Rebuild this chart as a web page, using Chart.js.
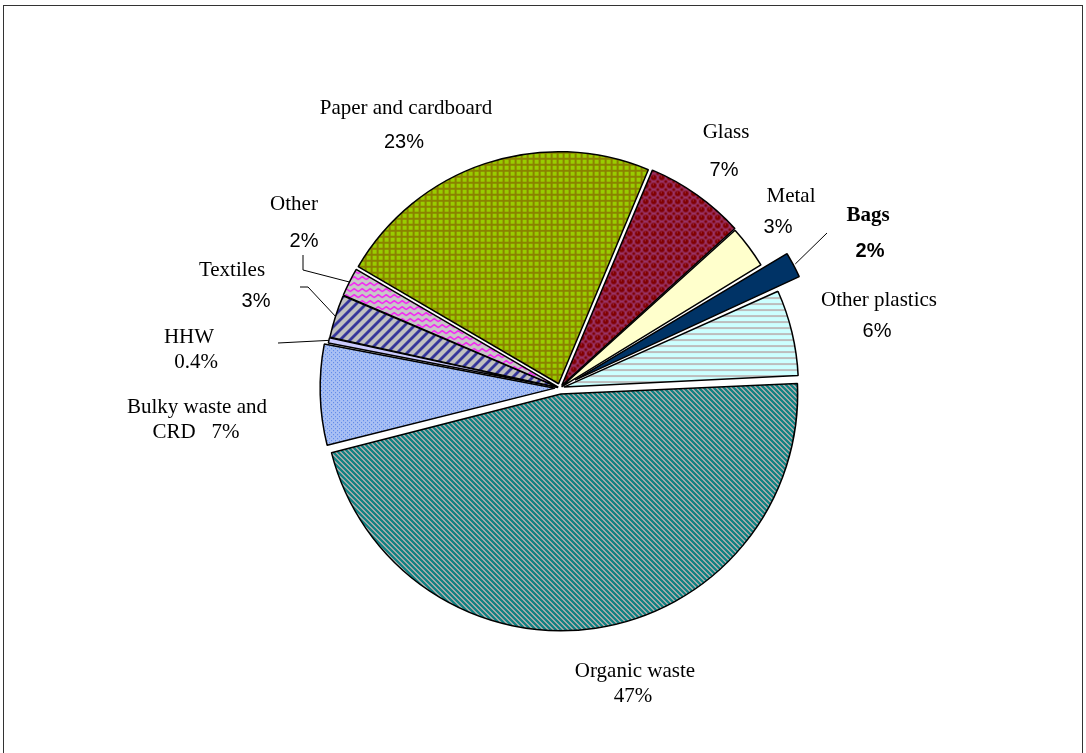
<!DOCTYPE html>
<html lang="en">
<head>
    <meta charset="UTF-8">
    <title>Waste composition</title>
    <script src="https://cdn.jsdelivr.net/npm/chart.js"></script>
    <style>
        body { margin: 0; background: #fff; }
        #wrap { position: relative; width: 1086px; height: 753px; }
    </style>
</head>
<body>
    <div id="wrap"><canvas id="wasteChart"></canvas></div>
    <script>
        // slices, clockwise starting with organic waste
        const categories = ['Organic waste', 'Bulky waste and CRD', 'HHW', 'Textiles', 'Other',
            'Paper and cardboard', 'Glass', 'Metal', 'Bags', 'Other plastics'];
        const shares = [47, 7, 0.4, 3, 2, 23, 7, 3, 2, 6];
        const shareText = ['47%', '7%', '0.4%', '3%', '2%', '23%', '7%', '3%', '2%', '6%'];
        // how far each slice is pulled out, in pixels
        const explode = [12, 10, 4, 4, 4, 9, 6, 4, 34, 8];

        // label layout: name centre, value centre
        const labelLayout = [
            { name: 'Organic waste', nx: 635, ny: 671, vx: 633, vy: 696, serifVal: true },
            { name: 'Bulky waste and', nx: 197, ny: 407, joined: 'CRD   ', jx: 196, jy: 432 },
            { name: 'HHW', nx: 189, ny: 337, vx: 196, vy: 362, serifVal: true, leader: [[278, 343]] },
            { name: 'Textiles', nx: 232, ny: 270, vx: 256, vy: 301, leader: [[300, 287], [308, 287]] },
            { name: 'Other', nx: 294, ny: 204, vx: 304, vy: 241, leader: [[303, 255], [303, 270]] },
            { name: 'Paper and cardboard', nx: 406, ny: 108, vx: 404, vy: 142 },
            { name: 'Glass', nx: 726, ny: 132, vx: 724, vy: 170 },
            { name: 'Metal', nx: 791, ny: 196, vx: 778, vy: 227 },
            { name: 'Bags', nx: 868, ny: 216, vx: 870, vy: 251, bold: true, leader: [[827, 233]] },
            { name: 'Other plastics', nx: 879, ny: 300, vx: 877, vy: 331 }
        ];

        function tile(w, h, draw) {
            const c = document.createElement('canvas');
            c.width = w; c.height = h;
            const g = c.getContext('2d');
            draw(g, w, h);
            return document.createElement('canvas').getContext('2d').createPattern(c, 'repeat');
        }

        function px(g, w, h, test, colA, colB) {
            for (let y = 0; y < h; y++) {
                for (let x = 0; x < w; x++) {
                    g.fillStyle = test(x, y) ? colA : colB;
                    g.fillRect(x, y, 1, 1);
                }
            }
        }

        const fills = [
            // organic: teal / grey diagonal
            tile(5, 5, (g, w, h) => px(g, w, h, (x, y) => ((x - y + 10) % 5) < 3, '#0f8282', '#acacac')),
            // bulky: light blue dotted
            tile(4, 4, (g) => {
                g.fillStyle = '#a9c0f4'; g.fillRect(0, 0, 4, 4);
                g.fillStyle = '#4f7ee6'; g.fillRect(0, 0, 1, 1); g.fillRect(2, 2, 1, 1);
            }),
            '#ccccff',
            // textiles: grey with navy wide stripes
            tile(10, 10, (g, w, h) => px(g, w, h, (x, y) => ((x + y) % 10) < 4, '#333399', '#c0c0c0')),
            // other: grey with magenta zigzag
            tile(8, 6, (g) => {
                g.fillStyle = '#c8c8c8'; g.fillRect(0, 0, 8, 6);
                g.strokeStyle = '#ff00ff'; g.lineWidth = 1.4;
                g.beginPath(); g.moveTo(0, 4.5); g.lineTo(4, 1.5); g.lineTo(8, 4.5); g.stroke();
            }),
            // paper: green with olive grid
            tile(6, 6, (g) => {
                g.fillStyle = '#99cc00'; g.fillRect(0, 0, 6, 6);
                g.fillStyle = '#8a8200'; g.fillRect(0, 0, 6, 2); g.fillRect(0, 0, 2, 6);
            }),
            // glass: dark red spheres
            tile(8, 8, (g) => {
                g.fillStyle = '#993366'; g.fillRect(0, 0, 8, 8);
                g.fillStyle = '#800000';
                g.beginPath(); g.arc(4, 4, 2.8, 0, Math.PI * 2); g.fill();
                g.beginPath(); g.arc(0, 0, 1.6, 0, Math.PI * 2); g.arc(8, 0, 1.6, 0, Math.PI * 2); g.fill();
                g.beginPath(); g.arc(0, 8, 1.6, 0, Math.PI * 2); g.arc(8, 8, 1.6, 0, Math.PI * 2); g.fill();
                g.fillStyle = '#b0506e'; g.fillRect(3, 2.5, 1, 1);
            }),
            '#ffffcc',
            '#003366',
            // other plastics: cyan / grey horizontal stripes
            tile(1, 6, (g, w, h) => px(g, w, h, (x, y) => y < 4, '#ccffff', '#bdbdbd'))
        ];

        const labelsPlugin = {
            id: 'sliceLabels',
            beforeDraw(chart) {
                const ctx = chart.ctx;
                ctx.save();
                ctx.strokeStyle = '#333';
                ctx.lineWidth = 1;
                ctx.strokeRect(3.5, 5.5, 1079, 800);
                ctx.restore();
            },
            afterDatasetsDraw(chart) {
                const ctx = chart.ctx;
                const meta = chart.getDatasetMeta(0);
                ctx.save();
                ctx.fillStyle = '#000';
                ctx.textAlign = 'center';
                ctx.textBaseline = 'middle';
                meta.data.forEach((arc, i) => {
                    const L = labelLayout[i];
                    const p = arc.getProps(['x', 'y', 'startAngle', 'endAngle', 'outerRadius'], true);
                    const mid = (p.startAngle + p.endAngle) / 2;
                    if (L.leader) {
                        const r = p.outerRadius + explode[i];
                        ctx.strokeStyle = '#000';
                        ctx.lineWidth = 1;
                        ctx.beginPath();
                        L.leader.forEach((pt, k) => k === 0 ? ctx.moveTo(pt[0], pt[1]) : ctx.lineTo(pt[0], pt[1]));
                        ctx.lineTo(p.x + Math.cos(mid) * r, p.y + Math.sin(mid) * r);
                        ctx.stroke();
                    }
                    const serif = (L.bold ? 'bold ' : '') + '21px "Liberation Serif", "Times New Roman", serif';
                    const sans = (L.bold ? 'bold ' : '') + '20px "Liberation Sans", Arial, sans-serif';
                    ctx.font = serif;
                    ctx.fillText(L.name, L.nx, L.ny);
                    if (L.joined) {
                        ctx.fillText(L.joined + shareText[i], L.jx, L.jy);
                    } else {
                        ctx.font = L.serifVal ? serif : sans;
                        ctx.fillText(shareText[i], L.vx, L.vy);
                    }
                });
                ctx.restore();
            }
        };

        new Chart(document.getElementById('wasteChart'), {
            type: 'pie',
            data: {
                labels: categories,
                datasets: [{
                    data: shares,
                    backgroundColor: fills,
                    borderColor: '#000',
                    borderWidth: 1.5,
                    // arcs are moved by half of the offset option
                    offset: explode.map(v => v * 2),
                    hoverOffset: 0,
                    radius: 232,
                    clip: false
                }]
            },
            options: {
                responsive: true,
                maintainAspectRatio: false,
                animation: false,
                rotation: 87.3,
                layout: { padding: { left: 34, top: 23, right: 0, bottom: 0 } },
                plugins: {
                    legend: { display: false },
                    tooltip: { enabled: false }
                }
            },
            plugins: [labelsPlugin]
        });
    </script>
</body>
</html>
